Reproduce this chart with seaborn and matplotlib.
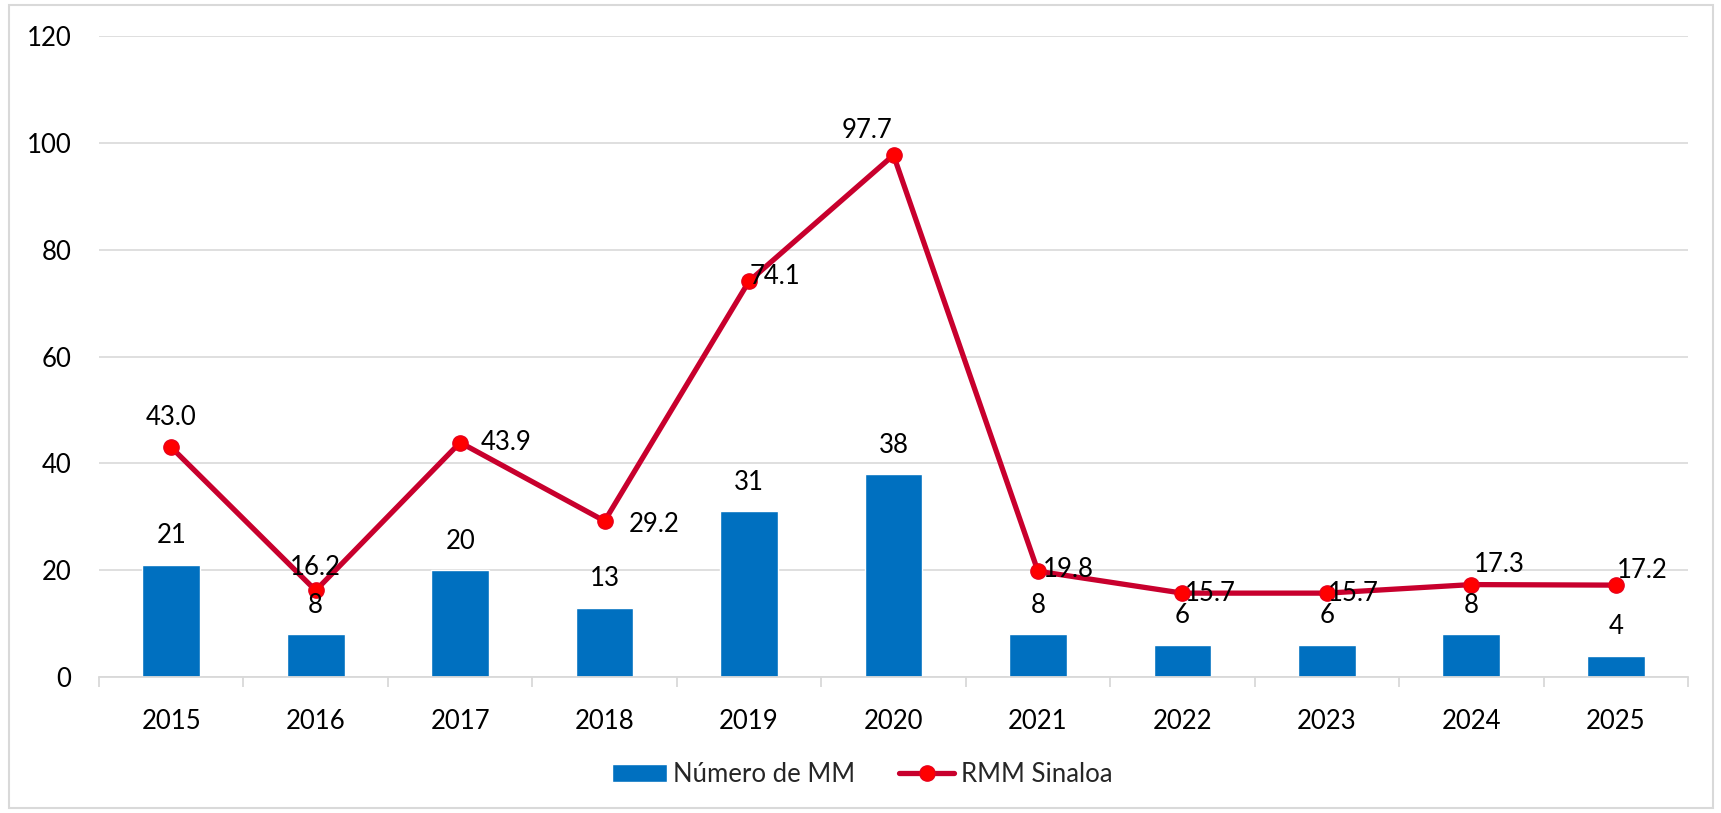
import matplotlib
matplotlib.use("Agg")
import matplotlib.pyplot as plt
from matplotlib.patches import Rectangle
from matplotlib.ticker import FixedLocator, NullFormatter
import seaborn as sns
import pandas as pd
import numpy as np

years = ["2015", "2016", "2017", "2018", "2019", "2020", "2021", "2022", "2023", "2024", "2025"]
num_mm = [21, 8, 20, 13, 31, 38, 8, 6, 6, 8, 4]
rmm = [43.0, 16.2, 43.9, 29.2, 74.1, 97.7, 19.8, 15.7, 15.7, 17.3, 17.2]
bar_label = "Número de MM"
line_label = "RMM Sinaloa"
y_ticks = [0, 20, 40, 60, 80, 100, 120]

# label offsets in pixels (dx, dy) for the line labels
line_label_offsets = [(0, 30), (0, 23), (46, 0), (50, -3), (26, 5), (-27, 25),
                      (30, 2), (28, 0), (26, 0), (28, 20), (26, 15)]

sns.set_theme(style="white")
plt.rcParams['font.family'] = ['Lato', 'DejaVu Sans']
FS = 18.5

df = pd.DataFrame({"year": years, "mm": num_mm, "rmm": rmm})

fig = plt.figure(figsize=(17.21, 8.13), dpi=100)
ax = fig.add_axes([99/1721, 1-677/813, (1688-99)/1721, (677-36)/813])

blue = "#0070C0"
crimson = "#C8002D"
red = "#FF0000"

sns.barplot(data=df, x="year", y="mm", color=blue, width=0.4, saturation=1,
            ax=ax, label=bar_label, zorder=2)
n_before = len(ax.lines)
sns.pointplot(data=df, x="year", y="rmm", color=crimson, markers="o", linestyles="-",
              errorbar=None, linewidth=3.8, markersize=11,
              ax=ax, label=line_label, zorder=3)
for ln in ax.lines[n_before:]:
    if len(ln.get_xdata()) == len(years):
        ln.set_linewidth(3.8)
        ln.set_markersize(11)
        ln.set_markerfacecolor(red)
        ln.set_markeredgecolor("#E8001A")
        ln.set_markeredgewidth(1)
        ln.set_zorder(3)

ax.set_xlim(-0.5, len(years) - 0.5)
ax.set_ylim(0, 120)
ax.set_yticks(y_ticks)
ax.set_xlabel("")
ax.set_ylabel("")

for s in ["top", "right", "left"]:
    ax.spines[s].set_visible(False)
ax.spines["bottom"].set_color("#D9D9D9")
ax.spines["bottom"].set_linewidth(1.3)
ax.yaxis.grid(True, color="#D9D9D9", linewidth=1.2, zorder=0)
ax.set_axisbelow(True)

ax.tick_params(axis="y", length=0, pad=20, labelsize=FS, labelcolor="black")
ax.tick_params(axis="x", which="major", length=0, pad=23, labelsize=FS, labelcolor="black")
ax.xaxis.set_minor_locator(FixedLocator(np.arange(-0.5, len(years), 1.0)))
ax.xaxis.set_minor_formatter(NullFormatter())
ax.tick_params(axis="x", which="minor", length=7, width=1.3, color="#D9D9D9", direction="out", bottom=True)

# bar labels
for i, v in enumerate(num_mm):
    ax.annotate(str(v), (i, v), xytext=(0, 29), textcoords="offset pixels",
                ha="center", va="center", fontsize=FS, color="black", zorder=4)
# line labels
for i, v in enumerate(rmm):
    dx, dy = line_label_offsets[i]
    ax.annotate(f"{v:.1f}", (i, v), xytext=(dx, dy), textcoords="offset pixels",
                ha="center", va="center", fontsize=FS, color="black", zorder=4)

if ax.get_legend() is not None:
    ax.get_legend().remove()
handles, labels = ax.get_legend_handles_labels()
order = [labels.index(bar_label), labels.index(line_label)]
fig.legend([handles[i] for i in order], [labels[i] for i in order], loc="center",
           bbox_to_anchor=(862/1721, 1-774/813),
           ncol=2, frameon=False, fontsize=FS, handlelength=2.15, handletextpad=0.25,
           columnspacing=1.7)

fig.patches.append(Rectangle((9/1721, 5/813), (1713-9)/1721, (808-5)/813,
                             transform=fig.transFigure, fill=False,
                             edgecolor="#D9D9D9", linewidth=1.5))

fig.savefig("out.png", dpi=100)
